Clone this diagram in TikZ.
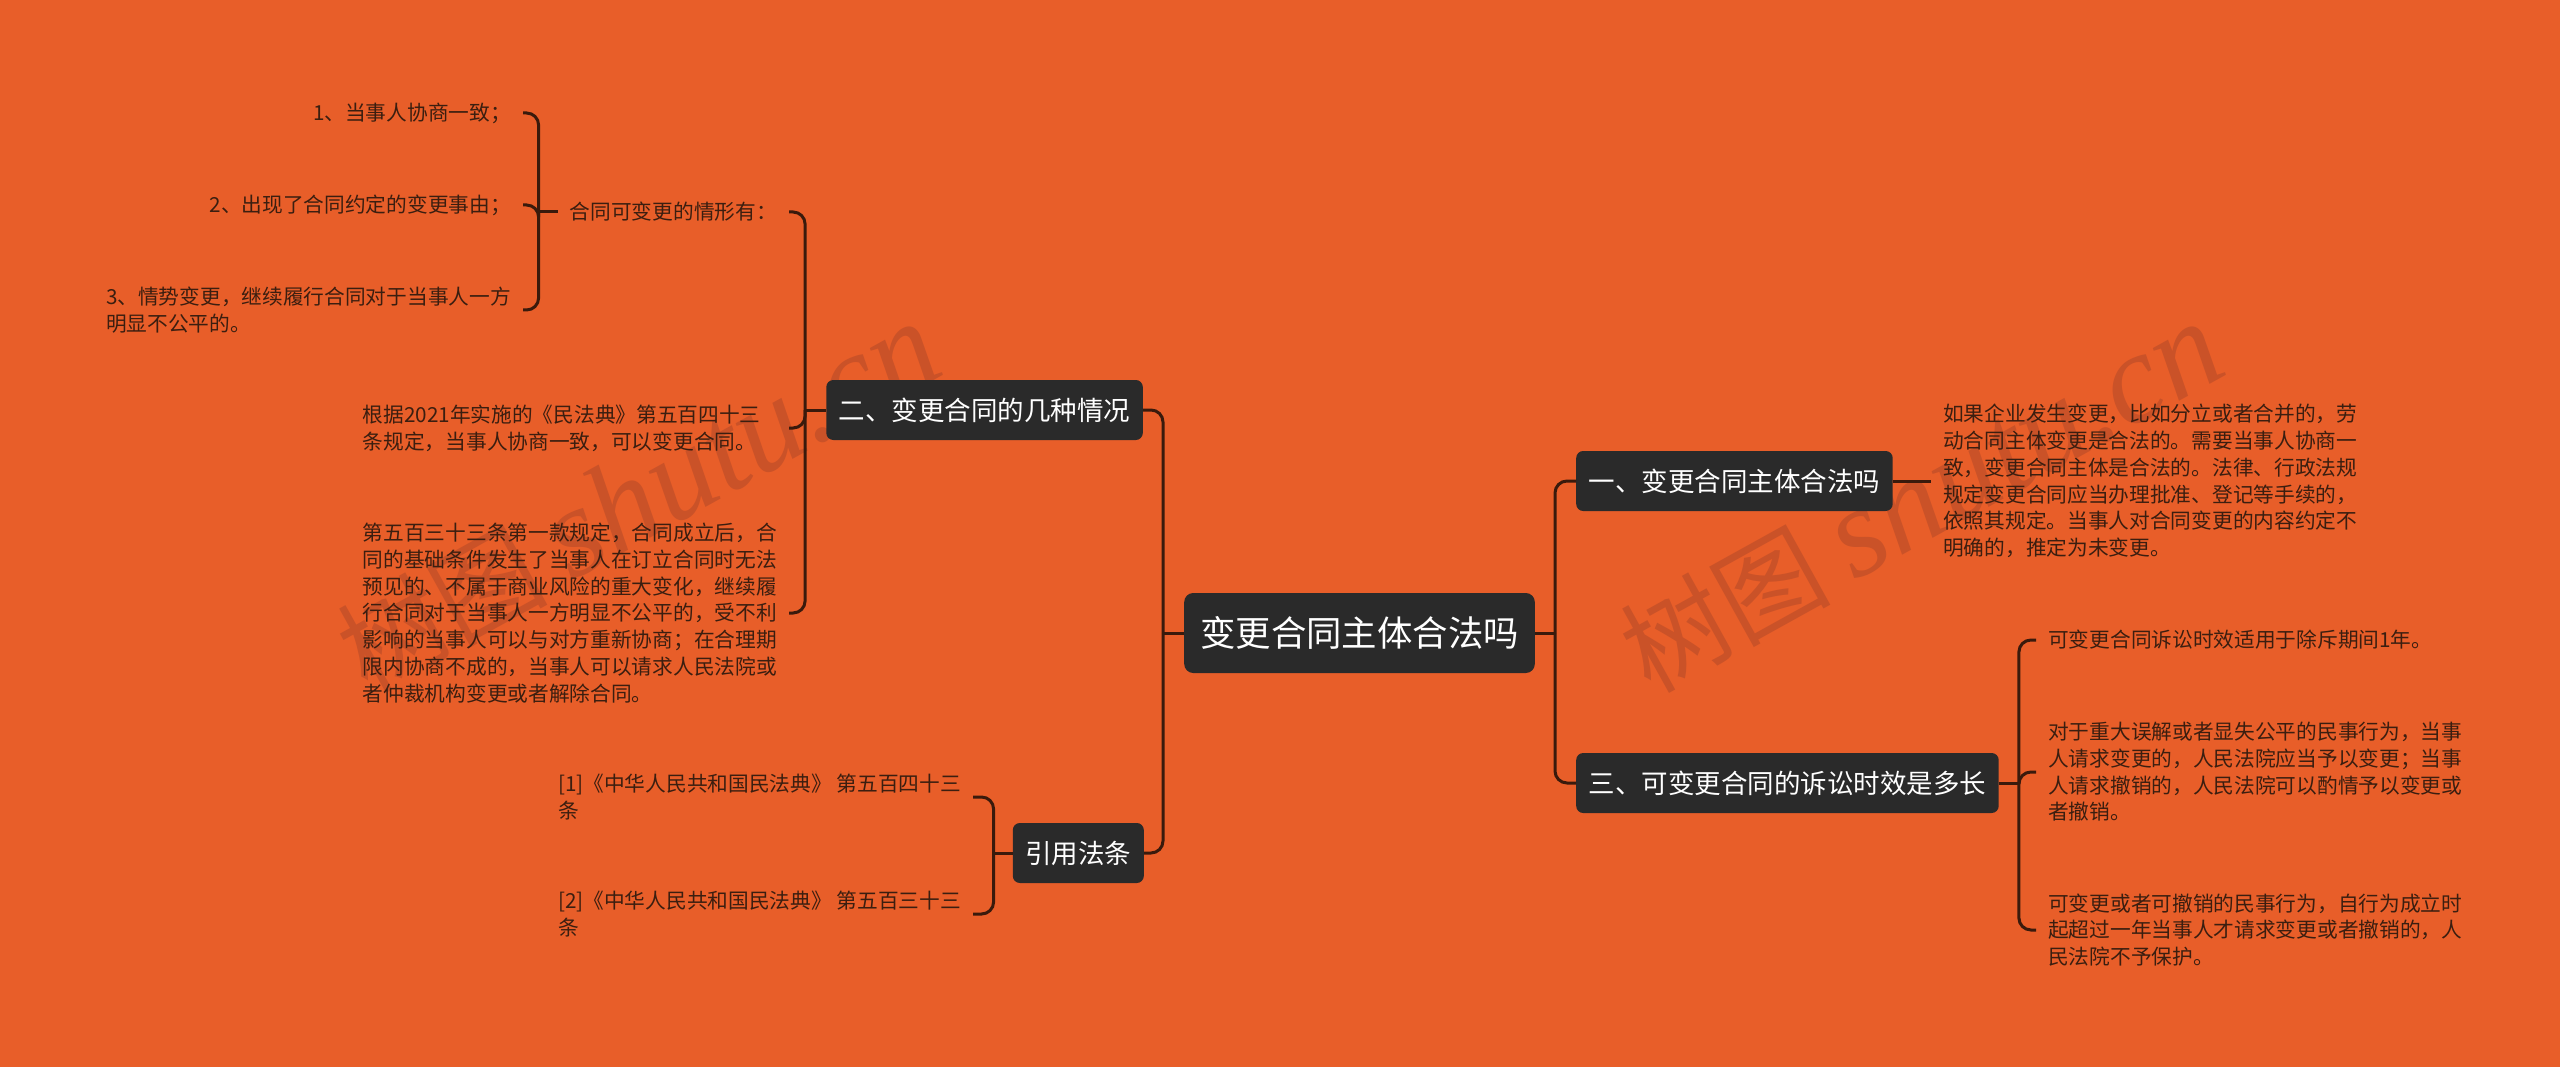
\documentclass[tikz,border=0pt]{standalone}
\usepackage{fontspec}
\setmainfont{Noto Sans CJK SC}
\newfontfamily\wmlatin{Liberation Serif}
\definecolor{bg}{HTML}{E85E29}
\definecolor{boxc}{HTML}{2A2A2A}
\definecolor{conn}{HTML}{3A1A0C}
\definecolor{leaftext}{HTML}{3B1E10}
\definecolor{wmc}{HTML}{CA5228}
\tikzset{
  rootbox/.style={fill=boxc, rounded corners=9pt, text=white, font=\fontsize{35.4}{40}\selectfont, inner xsep=16pt, inner ysep=0pt, minimum height=80pt},
  topicbox/.style={fill=boxc, rounded corners=7pt, text=white, font=\fontsize{26.5}{30}\selectfont, inner xsep=12.5pt, inner ysep=0pt, minimum height=60pt},
  leaf/.style={text=leaftext, font=\fontsize{20.7}{26.7}\selectfont, align=left, inner xsep=12pt, inner ysep=2pt},
  conline/.style={draw=conn, line width=3pt, rounded corners=12pt},
  wmark/.style={text=wmc, rotate=29, anchor=base west, inner sep=0pt}
}
\begin{document}
\begin{tikzpicture}[x=1pt,y=-1pt]
\fill[bg] (0,0) rectangle (2560,1067);
\useasboundingbox (0,0) rectangle (2560,1067);

% watermarks
\node[wmark] (wm1) at (367,695) {\fontsize{105}{105}\selectfont 树图\hspace{24pt}{\wmlatin\itshape\fontsize{128}{128}\selectfont shutu.cn}};
\node[wmark] (wm2) at (1650,695) {\fontsize{105}{105}\selectfont 树图\hspace{24pt}{\wmlatin\itshape\fontsize{128}{128}\selectfont shutu.cn}};

% main nodes
\node[rootbox] (root) at (1359.5,633) {变更合同主体合法吗};
\node[topicbox, anchor=west] (t1) at (1576,481) {一、变更合同主体合法吗};
\node[topicbox, anchor=west] (t3) at (1576,783) {三、可变更合同的诉讼时效是多长};
\node[topicbox, anchor=east] (t2) at (1143,410) {二、变更合同的几种情况};
\node[topicbox, anchor=east] (t4) at (1144,853) {引用法条};

% right leaves
\node[leaf, anchor=west] (l1) at (1931,481) {如果企业发生变更，比如分立或者合并的，劳\\动合同主体变更是合法的。需要当事人协商一\\致，变更合同主体是合法的。法律、行政法规\\规定变更合同应当办理批准、登记等手续的，\\依照其规定。当事人对合同变更的内容约定不\\明确的，推定为未变更。};
\node[leaf, anchor=west] (l5) at (2036,640) {可变更合同诉讼时效适用于除斥期间1年。};
\node[leaf, anchor=west] (l6) at (2036,772) {对于重大误解或者显失公平的民事行为，当事\\人请求变更的，人民法院应当予以变更；当事\\人请求撤销的，人民法院可以酌情予以变更或\\者撤销。};
\node[leaf, anchor=west] (l7) at (2036,930) {可变更或者可撤销的民事行为，自行为成立时\\起超过一年当事人才请求变更或者撤销的，人\\民法院不予保护。};

% left leaves
\node[leaf, anchor=east] (l2) at (789,212) {合同可变更的情形有：};
\node[leaf, anchor=east, text width=414pt] (l3) at (789,428) {根据2021年实施的《民法典》第五百四十三\\条规定，当事人协商一致，可以变更合同。};
\node[leaf, anchor=east, text width=414pt] (l4) at (789,613) {第五百三十三条第一款规定，合同成立后，合\\同的基础条件发生了当事人在订立合同时无法\\预见的、不属于商业风险的重大变化，继续履\\行合同对于当事人一方明显不公平的，受不利\\影响的当事人可以与对方重新协商；在合理期\\限内协商不成的，当事人可以请求人民法院或\\者仲裁机构变更或者解除合同。};
\node[leaf, anchor=east] (c1) at (523,113) {1、当事人协商一致；};
\node[leaf, anchor=east] (c2) at (523,205) {2、出现了合同约定的变更事由；};
\node[leaf, anchor=east] (c3) at (523,310) {3、情势变更，继续履行合同对于当事人一方\\明显不公平的。};
\node[leaf, anchor=east] (r1) at (973,797) {[1]《中华人民共和国民法典》 第五百四十三\\条};
\node[leaf, anchor=east] (r2) at (973,914) {[2]《中华人民共和国民法典》 第五百三十三\\条};

% junctions
\coordinate (rj) at ([xshift=20pt]root.east);
\coordinate (lj) at ([xshift=-21pt]root.west);
\coordinate (j3) at ([xshift=20pt]t3.east);
\coordinate (j2) at ([xshift=-21pt]t2.west);
\coordinate (jc) at ([xshift=-19pt]l2.west);
\coordinate (j4) at ([xshift=-19pt]t4.west);

% connectors
\draw[conline] (root.east) -- (rj);
\draw[conline] (rj) |- (t1.west);
\draw[conline] (rj) |- (t3.west);
\draw[conline] (t1.east) -- (l1.west);
\draw[conline] (t3.east) -- (j3);
\draw[conline] (j3) |- (l5.west);
\draw[conline] (j3) |- (l6.west);
\draw[conline] (j3) |- (l7.west);

\draw[conline] (root.west) -- (lj);
\draw[conline] (lj) |- (t2.east);
\draw[conline] (lj) |- (t4.east);
\draw[conline] (t2.west) -- (j2);
\draw[conline] (j2) |- (l2.east);
\draw[conline] (j2) |- (l3.east);
\draw[conline] (j2) |- (l4.east);
\draw[conline] (l2.west) -- (jc);
\draw[conline] (jc) |- (c1.east);
\draw[conline] (jc) |- (c2.east);
\draw[conline] (jc) |- (c3.east);
\draw[conline] (t4.west) -- (j4);
\draw[conline] (j4) |- (r1.east);
\draw[conline] (j4) |- (r2.east);
\end{tikzpicture}
\end{document}
